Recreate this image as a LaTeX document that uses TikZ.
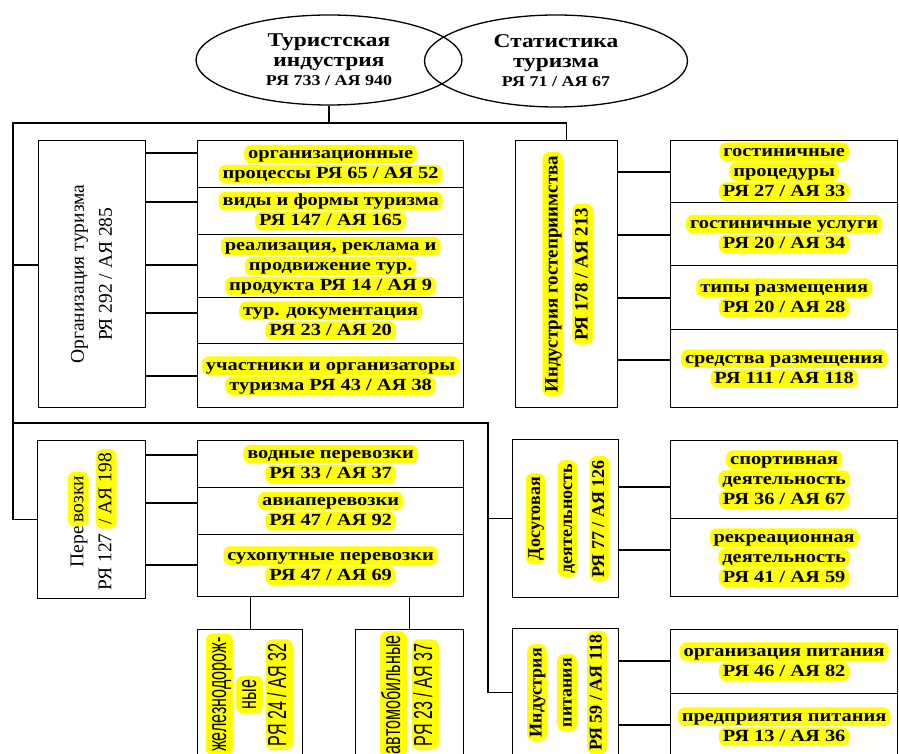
\documentclass[tikz,border=0pt]{standalone}
\usepackage{fontspec}
\usepackage{graphicx}
\setmainfont{Liberation Serif}
\newfontfamily\widef{Liberation Serif}[FakeStretch=1.2]
\newfontfamily\sansc{Liberation Sans}[FakeStretch=0.62]
\usetikzlibrary{shapes.geometric}
\definecolor{hly}{RGB}{255,255,0}
\tikzset{hlnode/.style={draw=none,fill=hly,rounded corners=7pt,inner xsep=4pt,inner ysep=1.5pt,
  minimum width=0pt,minimum height=0pt,text height=0.72em,text depth=0.2em,anchor=base,rotate=0}}
\newcommand\hl[1]{\tikz[baseline=(hh.base)]\node[hlnode](hh){#1};}
\newcommand\vtext[1]{\rotatebox{90}{\begin{tabular}{@{}c@{}}#1\end{tabular}}}
\begin{document}
\begin{tikzpicture}[x=1pt,y=-1pt,
  box/.style={draw,line width=1.3pt,inner sep=0pt,anchor=north west},
  conn/.style={line width=1.3pt},
  sub/.style={box,align=center,font=\widef\bfseries\fontsize{17}{20}\selectfont},
  oval/.style={ellipse,draw,line width=1.3pt,inner sep=0pt,align=center,font=\widef\bfseries\fontsize{19.5}{20}\selectfont}]
\clip (0,0) rectangle (899,754);

% ellipses
\node[oval,minimum width=266,minimum height=90] (ind) at (329,60)
  {Туристская\\индустрия\\[-1pt]{\fontsize{15}{18}\selectfont РЯ 733 / АЯ 940}};
\node[oval,minimum width=263,minimum height=92] (stat) at (556,61)
  {Статистика\\туризма\\[-1pt]{\fontsize{15}{18}\selectfont РЯ 71 / АЯ 67}};

% organisation of tourism
\node[box,minimum width=107,minimum height=267,font=\rmfamily\fontsize{19.5}{28}\selectfont] (org) at (38,140)
  {\vtext{Организация туризма\\РЯ 292 / АЯ 285}};
\node[sub,minimum width=266,minimum height=47] (o1) at (197,140) {\hl{организационные}\\\hl{процессы РЯ 65 / АЯ 52}};
\node[sub,minimum width=266,minimum height=47] (o2) at (197,187) {\hl{виды и формы туризма}\\\hl{РЯ 147 / АЯ 165}};
\node[sub,minimum width=266,minimum height=63] (o3) at (197,234) {\hl{реализация, реклама и}\\\hl{продвижение тур.}\\\hl{продукта РЯ 14 / АЯ 9}};
\node[sub,minimum width=266,minimum height=46] (o4) at (197,297) {\hl{тур. документация}\\\hl{РЯ 23 / АЯ 20}};
\node[sub,minimum width=266,minimum height=64] (o5) at (197,343) {\hl{участники и организаторы}\\\hl{туризма РЯ 43 / АЯ 38}};

% hospitality
\node[box,minimum width=102,minimum height=267,font=\rmfamily\bfseries\fontsize{19}{30}\selectfont] (hosp) at (515,140)
  {\vtext{\hl{Индустрия гостеприимства}\\\hl{РЯ 178 / АЯ 213}}};
\node[sub,minimum width=227,minimum height=62] (h1) at (670,140) {\hl{гостиничные}\\\hl{процедуры}\\\hl{РЯ 27 / АЯ 33}};
\node[sub,minimum width=227,minimum height=63] (h2) at (670,202) {\hl{гостиничные услуги}\\\hl{РЯ 20 / АЯ 34}};
\node[sub,minimum width=227,minimum height=64] (h3) at (670,265) {\hl{типы размещения}\\\hl{РЯ 20 / АЯ 28}};
\node[sub,minimum width=227,minimum height=78] (h4) at (670,329) {\hl{средства размещения}\\\hl{РЯ 111 / АЯ 118}};

% transport
\node[box,minimum width=108,minimum height=158,font=\rmfamily\fontsize{19.5}{28}\selectfont] (trans) at (37,440)
  {\vtext{Пере\hl{возки}\\РЯ 127 \hl{/ АЯ 198}}};
\node[sub,minimum width=266,minimum height=47] (t1) at (197,440) {\hl{водные перевозки}\\\hl{РЯ 33 / АЯ 37}};
\node[sub,minimum width=266,minimum height=47] (t2) at (197,487) {\hl{авиаперевозки}\\\hl{РЯ 47 / АЯ 92}};
\node[sub,minimum width=266,minimum height=62] (t3) at (197,534) {\hl{сухопутные перевозки}\\\hl{РЯ 47 / АЯ 69}};
\node[box,minimum width=105,minimum height=130,font=\sansc\fontsize{26}{30}\selectfont] (rail) at (197,629)
  {\vtext{\hl{железнодорож-}\\\hl{ные}\\\hl{РЯ 24 / АЯ 32}}};
\node[box,minimum width=108,minimum height=130,font=\sansc\fontsize{26}{32}\selectfont] (auto) at (355,629)
  {\vtext{\hl{автомобильные}\\\hl{РЯ 23 / АЯ 37}}};

% leisure
\node[box,minimum width=106,minimum height=158,font=\rmfamily\bfseries\fontsize{18}{32}\selectfont] (leis) at (512,439)
  {\vtext{\hl{Досуговая}\\\hl{деятельность}\\\hl{РЯ 77 / АЯ 126}}};
\node[sub,minimum width=227,minimum height=78] (l1) at (670,440) {\hl{спортивная}\\\hl{деятельность}\\\hl{РЯ 36 / АЯ 67}};
\node[sub,minimum width=227,minimum height=78] (l2) at (670,518) {\hl{рекреационная}\\\hl{деятельность}\\\hl{РЯ 41 / АЯ 59}};

% food
\node[box,minimum width=106,minimum height=128,font=\rmfamily\bfseries\fontsize{18}{30}\selectfont] (food) at (512,628)
  {\vtext{\hl{Индустрия}\\\hl{питания}\\\hl{РЯ 59 / АЯ 118}}};
\node[sub,minimum width=227,minimum height=64] (f1) at (670,629) {\hl{организация питания}\\\hl{РЯ 46 / АЯ 82}};
\node[sub,minimum width=227,minimum height=66] (f2) at (670,693) {\hl{предприятия питания}\\\hl{РЯ 13 / АЯ 36}};

% connectors
\coordinate (tl) at (13,123);
\coordinate (ml) at (13,423);
\coordinate (mr) at (488,423);
\draw[conn] (ind.south) -- (ind.south |- tl);
\draw[conn] (hosp.north) -- (hosp.north |- tl) -- (tl) -- (tl |- trans.west) -- (trans.west);
\draw[conn] (tl |- 0,265) -- (org.west |- 0,265);
\draw[conn] (ml) -- (mr) -- (mr |- food.west) -- (food.west);
\draw[conn] (mr |- leis.west) -- (leis.west);
\foreach \n/\y in {o1/153,o2/202,o3/265,o4/313,o5/376}
  \draw[conn] (org.east |- 0,\y) -- (\n.west |- 0,\y);
\foreach \n/\y in {h1/172,h2/235,h3/298,h4/360}
  \draw[conn] (hosp.east |- 0,\y) -- (\n.west |- 0,\y);
\foreach \n/\y in {t1/455,t2/503,t3/565}
  \draw[conn] (trans.east |- 0,\y) -- (\n.west |- 0,\y);
\foreach \n/\y in {l1/487,l2/550}
  \draw[conn] (leis.east |- 0,\y) -- (\n.west |- 0,\y);
\foreach \n/\y in {f1/661,f2/725}
  \draw[conn] (food.east |- 0,\y) -- (\n.west |- 0,\y);
\draw[conn] (rail.north) -- (rail.north |- t3.south);
\draw[conn] (auto.north) -- (auto.north |- t3.south);
\end{tikzpicture}
\end{document}
